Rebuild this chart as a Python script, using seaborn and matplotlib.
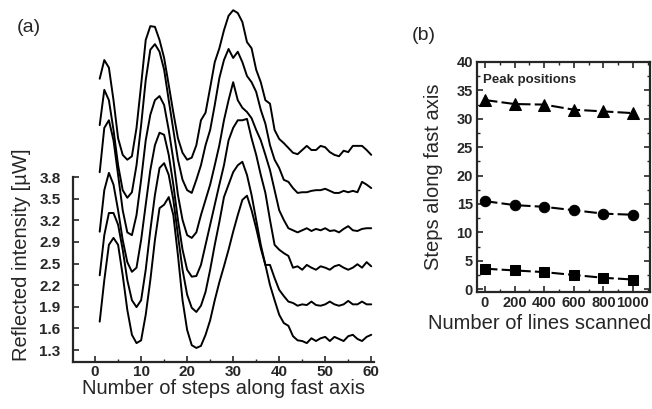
import matplotlib
matplotlib.use("Agg")
import matplotlib.pyplot as plt
import seaborn as sns
import pandas as pd
import numpy as np
from matplotlib.ticker import MultipleLocator, FixedLocator

sns.set_style("ticks")
plt.rcParams['font.family'] = ['Liberation Sans', 'DejaVu Sans']

# ---------------- data: panel (a) -----------------
steps = list(range(1, 61))
trace1 = [1.71, 2.31, 2.82, 2.92, 2.82, 2.38, 1.88, 1.52, 1.40, 1.44,
          1.81, 2.31, 2.89, 3.35, 3.40, 3.51, 3.25, 2.67, 2.02, 1.59,
          1.37, 1.33, 1.36, 1.52, 1.73, 2.02, 2.28, 2.51, 2.75, 3.01,
          3.25, 3.47, 3.53, 3.32, 3.06, 2.77, 2.53, 2.24, 2.02, 1.81,
          1.69, 1.65, 1.50, 1.44, 1.43, 1.40, 1.47, 1.43, 1.47, 1.49,
          1.43, 1.49, 1.46, 1.43, 1.50, 1.52, 1.46, 1.43, 1.49, 1.52]
trace2 = [2.38, 2.96, 3.28, 3.28, 3.11, 2.75, 2.31, 2.02, 1.92, 2.02,
          2.46, 3.03, 3.54, 3.93, 4.00, 3.83, 3.47, 2.96, 2.46, 2.10,
          1.91, 1.85, 1.94, 2.14, 2.46, 2.82, 3.15, 3.51, 3.69, 3.87,
          3.97, 4.02, 3.83, 3.54, 3.18, 2.82, 2.53, 2.53, 2.34, 2.17,
          2.08, 2.00, 1.98, 1.94, 1.96, 1.95, 2.00, 1.95, 1.94, 1.96,
          2.00, 1.96, 1.94, 1.96, 2.01, 1.96, 1.96, 2.00, 1.96, 1.96]
trace3 = [3.01, 3.61, 3.86, 3.69, 3.32, 2.89, 2.57, 2.43, 2.49, 2.89,
          3.40, 3.90, 4.26, 4.44, 4.41, 4.12, 3.69, 3.18, 2.75, 2.46,
          2.36, 2.37, 2.53, 2.82, 3.11, 3.40, 3.69, 3.97, 4.33, 4.51,
          4.62, 4.62, 4.64, 4.36, 4.12, 3.83, 3.57, 3.18, 2.82, 2.75,
          2.70, 2.66, 2.49, 2.51, 2.46, 2.53, 2.49, 2.46, 2.51, 2.49,
          2.46, 2.51, 2.53, 2.49, 2.46, 2.49, 2.54, 2.49, 2.57, 2.51]
trace4 = [3.87, 4.51, 4.62, 4.33, 3.83, 3.32, 3.00, 2.96, 3.25, 3.76,
          4.33, 4.70, 4.91, 4.97, 4.84, 4.48, 4.05, 3.54, 3.18, 2.96,
          2.92, 3.00, 3.25, 3.47, 3.69, 3.97, 4.26, 4.62, 4.91, 5.17,
          4.91, 4.80, 4.74, 4.65, 4.48, 4.33, 4.12, 3.90, 3.61, 3.32,
          3.18, 3.06, 3.03, 3.00, 3.03, 3.06, 3.02, 3.05, 3.03, 3.06,
          3.02, 3.03, 3.00, 3.05, 3.09, 3.03, 3.02, 3.05, 3.06, 3.06]
trace5 = [4.55, 5.06, 4.91, 4.48, 3.97, 3.61, 3.50, 3.58, 3.97, 4.55,
          5.20, 5.64, 5.72, 5.61, 5.35, 4.91, 4.48, 4.05, 3.76, 3.61,
          3.57, 3.76, 3.97, 4.26, 4.48, 4.84, 5.23, 5.49, 5.65, 5.52,
          5.61, 5.46, 5.26, 5.17, 5.03, 4.77, 4.57, 4.26, 4.05, 3.93,
          3.76, 3.73, 3.64, 3.57, 3.58, 3.58, 3.60, 3.61, 3.61, 3.63,
          3.60, 3.57, 3.57, 3.60, 3.58, 3.60, 3.58, 3.73, 3.69, 3.64]
trace6 = [5.22, 5.49, 5.38, 4.91, 4.36, 4.12, 4.05, 4.10, 4.51, 5.13,
          5.78, 5.98, 5.97, 5.78, 5.52, 5.13, 4.73, 4.36, 4.15, 4.05,
          4.08, 4.26, 4.62, 4.73, 5.09, 5.46, 5.66, 5.92, 6.13, 6.21,
          6.17, 6.04, 5.75, 5.66, 5.35, 5.17, 4.91, 4.86, 4.48, 4.35,
          4.29, 4.22, 4.15, 4.13, 4.19, 4.25, 4.19, 4.19, 4.25, 4.23,
          4.16, 4.12, 4.10, 4.18, 4.16, 4.25, 4.25, 4.25, 4.19, 4.12]
traces = [trace1, trace2, trace3, trace4, trace5, trace6]

ytick_vals_a = [1.3, 1.6125, 1.925, 2.2375, 2.55, 2.8625, 3.175, 3.4875, 3.8]
ytick_labels_a = ["1.3", "1.6", "1.9", "2.2", "2.5", "2.9", "3.2", "3.5", "3.8"]
xticks_a = [0, 10, 20, 30, 40, 50, 60]

# ---------------- data: panel (b) -----------------
lines_scanned = [0, 200, 400, 600, 800, 1000]
peak3 = [33.3, 32.6, 32.5, 31.6, 31.3, 31.0]
peak2 = [15.5, 14.8, 14.5, 13.9, 13.3, 13.1]
peak1 = [3.6, 3.3, 3.0, 2.5, 2.0, 1.7]
xticks_b = [0, 200, 400, 600, 800, 1000]
yticks_b = [0, 5, 10, 15, 20, 25, 30, 35, 40]

W, H = 652, 409
fig = plt.figure(figsize=(W / 100, H / 100), dpi=100)

# ---------------- panel (a) -----------------
ax1 = fig.add_axes([73 / W, (H - 362) / H, (374 - 73) / W, (362 - 4) / H])
rows = []
for i, tr in enumerate(traces):
    for s, v in zip(steps, tr):
        rows.append({"step": s, "val": v, "trace": f"t{i}"})
dfa = pd.DataFrame(rows)
sns.lineplot(data=dfa, x="step", y="val", units="trace", estimator=None,
             color="black", lw=1.4, ax=ax1, sort=False)
ax1.set_xlim(-4.8, 60.6)
ax1.set_ylim(1.127, 6.30)
ax1.spines['top'].set_visible(False)
ax1.spines['right'].set_visible(False)
ax1.spines['left'].set_bounds(1.127, 3.8)
ax1.spines['left'].set_linewidth(1.6)
ax1.spines['bottom'].set_linewidth(1.6)
ax1.set_xticks(xticks_a)
ax1.xaxis.set_minor_locator(MultipleLocator(5))
ax1.set_yticks(ytick_vals_a)
ax1.set_yticklabels(ytick_labels_a)
ax1.tick_params(direction='in', which='major', length=4, width=1.2,
                labelsize=11)
ax1.tick_params(axis='x', pad=2)
ax1.tick_params(axis='y', pad=9)
ax1.tick_params(direction='in', which='minor', length=2.5, width=1.0)
for lab in ax1.get_xticklabels() + ax1.get_yticklabels():
    lab.set_fontweight('bold')
ax1.set_xlabel("Number of steps along fast axis", fontsize=14.5, labelpad=0)
ax1.set_ylabel("Reflected intensity [µW]", fontsize=14.5)
ax1.yaxis.set_label_coords(-0.14, 0.30)
ax1.patch.set_alpha(0)

fig.text(17 / W, 1 - 28 / H, "(a)", fontsize=14, va='center', ha='left')
fig.text(412 / W, 1 - 35 / H, "(b)", fontsize=14, va='center', ha='left')

# ---------------- panel (b) -----------------
ax2 = fig.add_axes([477 / W, (H - 292) / H, (650 - 477) / W, (292 - 62) / H])
for vals, mk, ms in [(peak3, '^', 8.5), (peak2, 'o', 7.5), (peak1, 's', 6.5)]:
    sns.lineplot(x=lines_scanned, y=vals, ax=ax2, color='black', lw=1.5,
                 marker=mk, markersize=ms, markeredgecolor='black',
                 linestyle=(0, (6, 2)))
ax2.set_xlim(-54, 1115)
ax2.set_ylim(-0.5, 40)
ax2.set_xticks(xticks_b)
ax2.set_yticks(yticks_b)
ax2.xaxis.set_minor_locator(MultipleLocator(100))
ax2.yaxis.set_minor_locator(MultipleLocator(2.5))
ax2.tick_params(direction='in', which='both', top=True, right=True)
ax2.tick_params(which='major', length=4, width=1.2, labelsize=10.5, pad=3)
ax2.tick_params(which='minor', length=2, width=1.0)
for sp in ax2.spines.values():
    sp.set_linewidth(1.6)
narrow = ['Liberation Sans Narrow', 'Liberation Sans', 'DejaVu Sans']
for lab in ax2.get_xticklabels() + ax2.get_yticklabels():
    lab.set_fontweight('bold')
    lab.set_family(narrow)
ax2.text(0.035, 0.92, "Peak positions", transform=ax2.transAxes, fontsize=9.5,
         fontweight='bold', family=narrow, va='center', ha='left')
ax2.set_xlabel("Number of lines scanned", fontsize=14.5)
ax2.xaxis.set_label_coords(0.36, -0.095)
ax2.set_ylabel("Steps along fast axis", fontsize=14.5)
ax2.yaxis.set_label_coords(-0.195, 0.5)

fig.savefig("out.png", dpi=100)
